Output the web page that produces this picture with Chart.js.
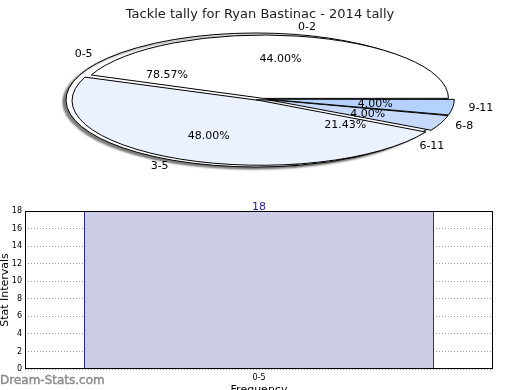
<!DOCTYPE html>
<html>
<head>
<meta charset="utf-8">
<script src="https://cdn.jsdelivr.net/npm/chart.js@4.4.1/dist/chart.umd.min.js"></script>
<style>
  html, body { margin: 0; padding: 0; background: #fff; width: 520px; height: 390px; overflow: hidden; }
  .box { position: absolute; left: 0; width: 520px; }
  #backBox, #frontBox { top: 0; height: 195px; }
  #barBox { top: 190px; height: 210px; }
  .mark { position: absolute; left: 0; top: 373px; font: 12px 'DejaVu Sans'; color: #8a8a8a;
          -webkit-text-stroke: 0.4px #8a8a8a; }
</style>
</head>
<body>
<div class="box" id="backBox"><canvas id="pieBack"></canvas></div>
<div class="box" id="frontBox"><canvas id="pieFront"></canvas></div>
<div class="box" id="barBox"><canvas id="bars"></canvas></div>
<div class="mark">Dream-Stats.com</div>
<script>
'use strict';

// ── Data ──────────────────────────────────────────────────
const titleText   = 'Tackle tally for Ryan Bastinac - 2014 tally';
const rangeLabels = ['0-2', '3-5', '6-8', '9-11'];
const rangePct    = [44.00, 48.00, 4.00, 4.00];
const groupLabels = ['0-5', '6-11'];
const groupPct    = [78.57, 21.43];
const barLabels   = ['0-5'];
const barValues   = [18];
const yMax        = 18;
const yStep       = 2;

const FONT = "'DejaVu Sans', sans-serif";

// ── Pie squashed into an ellipse, counter-clockwise from 3 o'clock ──
const ellipsePlugin = {
  id: 'ellipse',
  beforeDatasetsDraw(chart, args, o) {
    const ctx  = chart.ctx;
    const arc  = chart.getDatasetMeta(0).data[0];
    const base = ctx.getTransform();
    ctx.save();
    ctx.translate(o.cx, o.cy);
    ctx.scale(o.rx / arc.outerRadius, -o.ry / arc.outerRadius);
    ctx.translate(-arc.x, -arc.y);
    if (o.shadow) {
      ctx.shadowColor = o.shadow;
      ctx.shadowOffsetX = -3;
      ctx.shadowOffsetY = 2;
      ctx.shadowBlur = 2;
    }
    // keep outlines 1px wide whatever the squash
    const stroke = ctx.stroke;
    ctx.stroke = function () {
      this.save();
      this.setTransform(base);
      stroke.apply(this, arguments);
      this.restore();
    };
  },
  afterDatasetsDraw(chart) {
    delete chart.ctx.stroke;
    chart.ctx.restore();
  }
};

function labelPos(chart, arc, k) {
  const e  = chart.options.plugins.ellipse.label;
  const a  = (arc.startAngle + arc.endAngle) / 2;
  const kk = k + (arc.options.offset || 0) / 4 / arc.outerRadius;
  return { x: e.cx + kk * e.rx * Math.cos(a), y: e.cy - kk * e.ry * Math.sin(a), c: Math.cos(a) };
}

let backChart = null;

const pieTextPlugin = {
  id: 'pieText',
  afterDraw(chart) {
    const ctx = chart.ctx;
    ctx.save();
    ctx.font = '11px ' + FONT;
    ctx.fillStyle = '#000';
    ctx.textBaseline = 'middle';
    for (const ch of [backChart, chart]) {
      const labels = ch.data.labels;
      const vals   = ch.data.datasets[0].data;
      ch.getDatasetMeta(0).data.forEach((arc, i) => {
        const p = labelPos(ch, arc, 1.1);
        ctx.textAlign = p.c >= 0 ? 'left' : 'right';
        ctx.fillText(labels[i], p.x, p.y);
        const q = labelPos(ch, arc, 0.6);
        ctx.textAlign = 'center';
        ctx.fillText(vals[i].toFixed(2) + '%', q.x, q.y);
      });
    }
    ctx.restore();
  }
};

function pieOptions(ell, showTitle) {
  return {
    responsive: true, maintainAspectRatio: false, animation: false,
    rotation: 90,
    layout: { padding: 4 },
    plugins: {
      legend: { display: false },
      tooltip: { enabled: false },
      title: {
        display: true, text: showTitle ? titleText : '', color: showTitle ? '#222' : 'transparent',
        font: { family: FONT, size: 13, weight: 'normal' }, padding: { top: 3, bottom: 4 }
      },
      ellipse: ell
    }
  };
}

backChart = new Chart(document.getElementById('pieBack'), {
  type: 'pie',
  data: {
    labels: groupLabels,
    datasets: [{
      data: groupPct, backgroundColor: '#fff', borderColor: '#000', borderWidth: 1, clip: false
    }]
  },
  options: pieOptions({
    cx: 256, cy: 100, rx: 190, ry: 67, shadow: 'rgba(0,0,0,0.5)',
    label: { cx: 256, cy: 100, rx: 190, ry: 67 }
  }, false),
  plugins: [ellipsePlugin]
});

new Chart(document.getElementById('pieFront'), {
  type: 'pie',
  data: {
    labels: rangeLabels,
    datasets: [{
      data: rangePct,
      backgroundColor: ['#ffffff', '#ebf1fe', '#c8dafc', '#b4d2fd'],
      borderColor: '#000', borderWidth: 1,
      offset: [3, 9, 7, 7],
      clip: false
    }]
  },
  options: pieOptions({
    cx: 263, cy: 99, rx: 184, ry: 63,
    label: { cx: 259, cy: 99, rx: 188, ry: 66 }
  }, true),
  plugins: [ellipsePlugin, pieTextPlugin]
});

// ── Bar chart ─────────────────────────────────────────────
const framePlugin = {
  id: 'frame',
  afterDatasetsDraw(chart) {
    const ctx  = chart.ctx;
    const meta = chart.getDatasetMeta(0);
    ctx.save();
    ctx.font = '11px ' + FONT;
    ctx.fillStyle = '#1f1fa0';
    ctx.textAlign = 'center';
    ctx.textBaseline = 'bottom';
    meta.data.forEach((bar, i) => ctx.fillText(String(barValues[i]), bar.x, bar.y + 2));
    ctx.restore();
  },
  afterDraw(chart) {
    const { ctx, chartArea: a } = chart;
    ctx.save();
    ctx.strokeStyle = '#000';
    ctx.lineWidth = 1;
    ctx.strokeRect(Math.round(a.left) + 0.5, Math.round(a.top) + 0.5,
                   Math.round(a.right - a.left) - 1, Math.round(a.bottom - a.top) - 1);
    ctx.restore();
  }
};

new Chart(document.getElementById('bars'), {
  type: 'bar',
  data: {
    labels: barLabels,
    datasets: [{
      data: barValues,
      backgroundColor: 'rgb(204,204,230)',
      borderColor: '#1f1fa0',
      borderWidth: 1,
      barPercentage: 0.748,
      categoryPercentage: 1
    }]
  },
  options: {
    responsive: true, maintainAspectRatio: false, animation: false,
    layout: { padding: { top: 21, right: 27, left: 0, bottom: 0 } },
    plugins: { legend: { display: false }, tooltip: { enabled: false } },
    scales: {
      x: {
        afterFit: s => { s.height = 31; },
        grid: { offset: false, color: '#a0a0a0', drawTicks: false },
        border: { display: false, dash: [1, 2] },
        ticks: { color: '#000', font: { family: FONT, size: 8 }, padding: 4 },
        title: {
          display: true, text: 'Frequency', color: '#000',
          font: { family: FONT, size: 11 }, padding: { top: 0, bottom: 3 }
        }
      },
      y: {
        min: 0, max: yMax,
        afterFit: s => { s.width = 25; },
        grid: { color: '#a0a0a0', drawTicks: false },
        border: { display: false, dash: [1, 2] },
        ticks: { stepSize: yStep, color: '#000', font: { family: FONT, size: 8 }, padding: 3 },
        title: {
          display: true, text: 'Stat Intervals', color: '#000',
          font: { family: FONT, size: 11, lineHeight: 1 }, padding: 0
        }
      }
    }
  },
  plugins: [framePlugin]
});
</script>
</body>
</html>
